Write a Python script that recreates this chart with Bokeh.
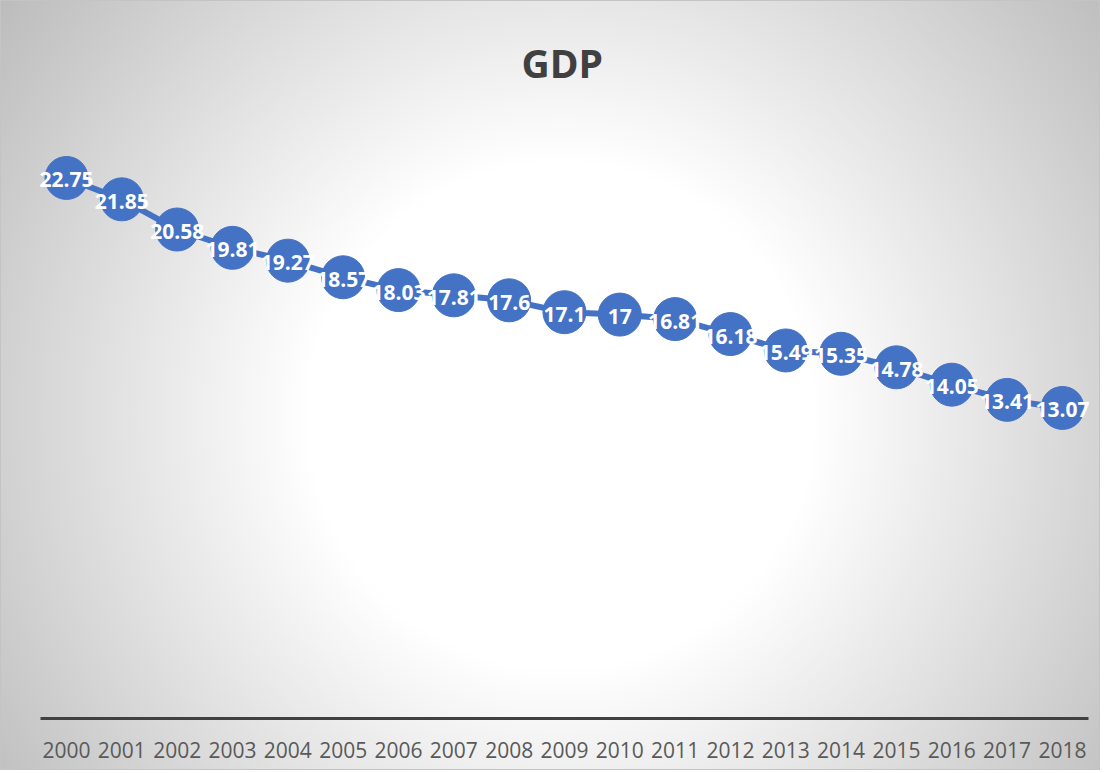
from bokeh.plotting import figure
from bokeh.models import Range1d, FixedTicker, ColumnDataSource
from bokeh.embed import file_html
from bokeh.resources import INLINE
from bokeh.core.properties import value

years = list(range(2000, 2019))
gdp = [22.75, 21.85, 20.58, 19.81, 19.27, 18.57, 18.03, 17.81, 17.6, 17.1,
       17, 16.81, 16.18, 15.49, 15.35, 14.78, 14.05, 13.41, 13.07]
labels = [f"{v:g}" for v in gdp]

src = ColumnDataSource(dict(x=years, y=gdp, lab=labels))

p = figure(width=1100, height=770, output_backend="svg", toolbar_location=None,
           x_range=Range1d(1998.807, 2018.688), y_range=Range1d(0, 26.01),
           min_border_left=0, min_border_right=0, min_border_top=100,
           min_border_bottom=52, y_axis_location=None, title="GDP")
p.styles = {"background": "radial-gradient(circle farthest-corner at 51% 54%, #ffffff 0%, #ffffff 36%, #bcbcbc 100%)",
            "box-shadow": "inset 0 0 0 1px #c4c4c4"}
p.background_fill_alpha = 0
p.border_fill_alpha = 0
p.outline_line_color = None
p.grid.visible = False

p.title.align = "left"
p.title.offset = 521
p.title.standoff = 24
p.title.text_font = "Open Sans"
p.title.text_font_size = "39px"
p.title.text_font_style = "bold"
p.title.text_color = "#404040"

ax = p.xaxis[0]
ax.ticker = FixedTicker(ticks=years)
ax.bounds = (1999.53, 2018.47)
ax.axis_line_color = "#404040"
ax.axis_line_width = 3
ax.major_tick_line_color = None
ax.minor_tick_line_color = None
ax.major_label_standoff = 17
ax.major_label_text_font = "Open Sans"
ax.major_label_text_font_size = "21px"
ax.major_label_text_color = "#595959"

p.line("x", "y", source=src, line_color="#4472C4", line_width=6)
p.scatter("x", "y", source=src, size=43, fill_color="#4472C4", line_color="#4472C4")
p.text("x", "y", text="lab", source=src, text_align="center", text_baseline="middle",
       y_offset=2, text_color="white", text_font=value("Open Sans"),
       text_font_style="bold", text_font_size="21px")

open("out.html", "w").write(file_html(p, INLINE))
